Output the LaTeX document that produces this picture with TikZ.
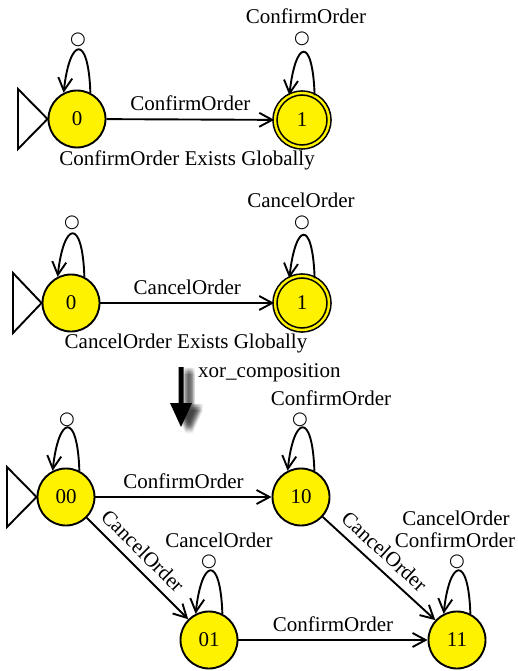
\documentclass[tikz,border=0pt]{standalone}
\usepackage{fontspec}
\setmainfont{Liberation Serif}
\newfontfamily\glyphfont{DejaVu Sans}
\usetikzlibrary{arrows.meta}
\newcommand\evfont{\fontsize{21}{24}\selectfont}
\newcommand\epsfont{\glyphfont\fontsize{18}{18}\selectfont}
\tikzset{
  stnode/.style={circle, draw=black, line width=1.9pt, fill=yellow,
    minimum size=57pt, inner sep=0pt, font=\evfont},
  finalnode/.style={stnode, double=yellow, double distance=2.4pt,
    line width=1.6pt, minimum size=54pt},
  trans/.style={line width=1.9pt, -{Straight Barb[length=13pt,width=14pt,line width=1.9pt]}},
  evt/.style={font=\evfont, inner sep=0pt, anchor=base},
  slab/.style={font=\evfont, sloped, above, inner sep=8pt},
  eps/.style={font=\epsfont, inner sep=0pt},
  initmark/.style={draw=black, line width=1.9pt, fill=white, line join=miter},
}
% teardrop self-loop on top of a state
\newcommand\selfloop[1]{\draw[trans] (#1.63) .. controls +(-2,60) and +(6,55) .. (#1.117);}
\begin{document}
\begin{tikzpicture}[x=1pt,y=1pt]
\useasboundingbox (0,0) rectangle (517,-671);

% ---------- ConfirmOrder Exists Globally ----------
\node[stnode] (a0) at (77,-119) {0};
\node[finalnode] (a1) at (302,-120) {1};
\draw[initmark] (18,-89) -- (18,-149) -- (a0.west) -- cycle;
\draw[trans] (a0) -- (a1) node[evt, midway, yshift=9pt] {ConfirmOrder};
\node[evt] (acap) at (187,-166) {ConfirmOrder Exists Globally};
\node[eps] (a0e) at (78,-40) {○};
\selfloop{a0}
\node[eps] (a1e) at (302,-39) {○};
\node[evt] (a1l) at (306,-24) {ConfirmOrder};
\selfloop{a1}

% ---------- CancelOrder Exists Globally ----------
\node[stnode] (b0) at (71,-303) {0};
\node[finalnode] (b1) at (302,-303) {1};
\draw[initmark] (13,-273) -- (13,-333) -- (b0.west) -- cycle;
\draw[trans] (b0) -- (b1) node[evt, midway, yshift=9pt] {CancelOrder};
\node[evt] (bcap) at (186,-348) {CancelOrder Exists Globally};
\node[eps] (b0e) at (72,-223) {○};
\selfloop{b0}
\node[eps] (b1e) at (302,-223) {○};
\node[evt] (b1l) at (301,-207) {CancelOrder};
\selfloop{b1}

% ---------- composition arrow with soft shadow ----------
\foreach \dx in {-2,...,2} {
  \foreach \dy in {-2,...,2} {
    \fill[black, opacity=0.05, shift={(8+1.6*\dx,-4+1.6*\dy)}]
      (178.5,-367) -- (183.5,-367) -- (183.5,-403) -- (192,-403)
      -- (181,-427) -- (170,-403) -- (178.5,-403) -- cycle;
  }
}
\fill[black] (178.5,-367) -- (183.5,-367) -- (183.5,-403) -- (192,-403)
  -- (181,-427) -- (170,-403) -- (178.5,-403) -- cycle;
\node[evt, anchor=base west] (xor) at (198,-377) {xor\_composition};

% ---------- composed automaton ----------
\node[stnode] (c00) at (66,-497) {00};
\node[stnode] (c10) at (301,-497) {10};
\node[stnode] (c01) at (209,-640) {01};
\node[stnode] (c11) at (457,-640) {11};
\draw[initmark] (7,-467) -- (7,-527) -- (c00.west) -- cycle;

\draw[trans] (c00) -- (c10) node[evt, midway, yshift=9pt] {ConfirmOrder};
\draw[trans] (c00) -- (c01) node[slab, pos=0.44] {CancelOrder};
\draw[trans] (c10) -- (c11) node[slab, pos=0.45] {CancelOrder};
\draw[trans] (c01) -- (c11) node[evt, midway, yshift=9pt] {ConfirmOrder};

\node[eps] (c00e) at (67,-420) {○};
\selfloop{c00}

\node[eps] (c10e) at (300,-420) {○};
\node[evt] (c10l) at (331,-405) {ConfirmOrder};
\selfloop{c10}

\node[eps] (c01e) at (209,-562) {○};
\node[evt] (c01l) at (219,-547) {CancelOrder};
\selfloop{c01}

\node[eps] (c11e) at (457,-562) {○};
\node[evt] (c11l1) at (456,-525) {CancelOrder};
\node[evt] (c11l2) at (455,-547) {ConfirmOrder};
\selfloop{c11}
\end{tikzpicture}
\end{document}
